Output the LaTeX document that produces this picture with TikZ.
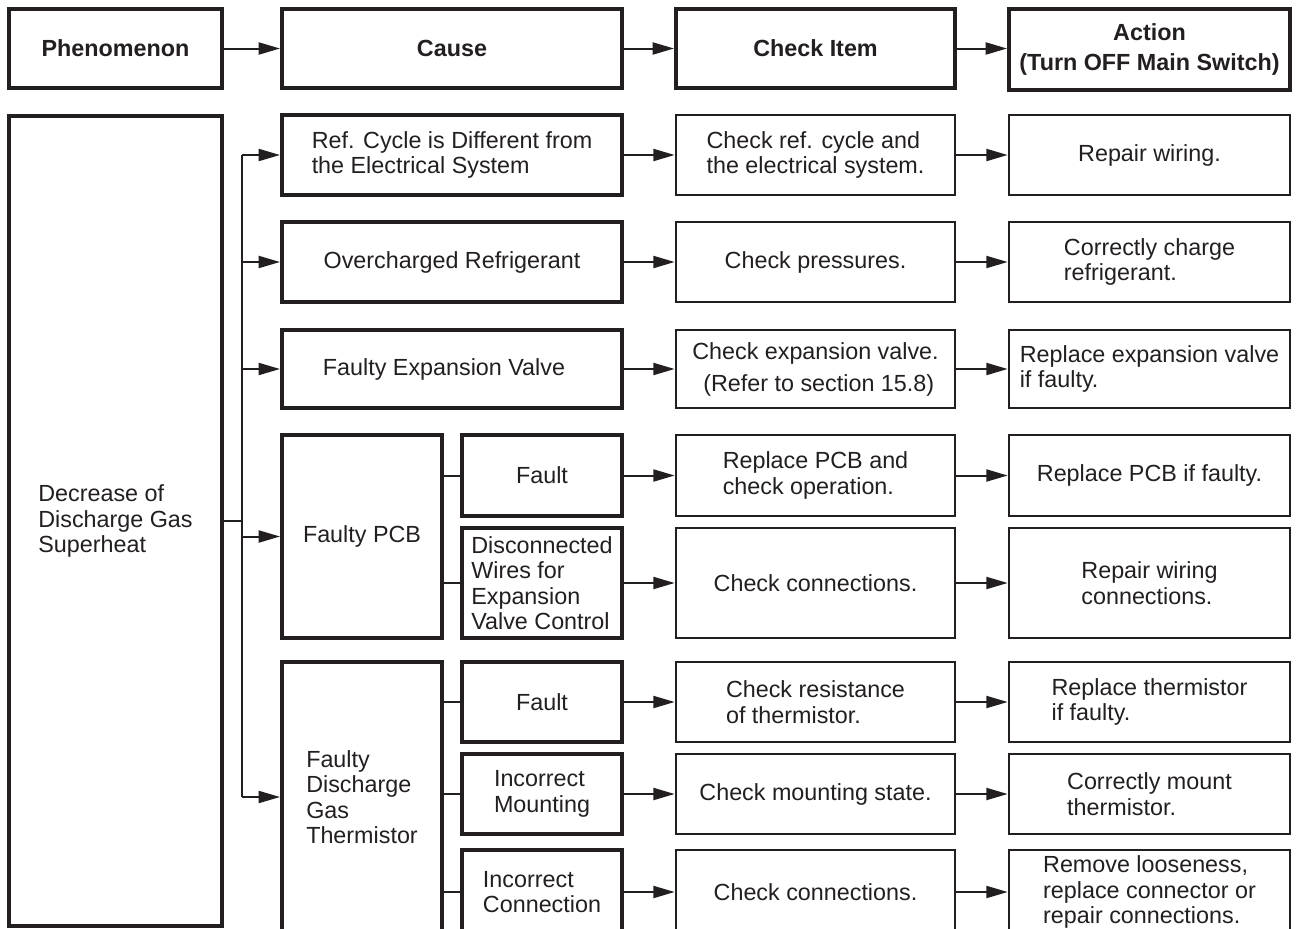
\documentclass[tikz,border=0pt]{standalone}
\usepackage{fontspec}
\setmainfont{Liberation Sans}
\usetikzlibrary{arrows.meta}
\definecolor{ink}{HTML}{231F20}
\newcommand{\bx}[7]{\node[#6,minimum width={(#4-#2)*0.75pt},minimum height={(#5-#3)*0.75pt}] (#1) at ({(#2+#4)/2},{(#3+#5)/2}) {#7};}
\begin{document}
\begin{tikzpicture}[x=0.75pt,y=-0.75pt,
  every node/.style={font=\fontsize{17.5}{19}\selectfont, text=ink, inner sep=0pt, align=left},
  hdr/.style={draw=ink, line width=3pt, font=\fontsize{17.5}{23}\selectfont\bfseries, align=center},
  cbox/.style={draw=ink, line width=3pt},
  kbox/.style={draw=ink, line width=2pt},
  arr/.style={draw=ink, line width=1.5pt, -{Triangle[length=16pt,width=9pt]}},
  ln/.style={draw=ink, line width=1.5pt}]
\clip (0,0) rectangle (1298,928);
\fill[white] (0,0) rectangle (1298,928);
% headers
\bx{h1}{9}{9}{222}{88}{hdr}{Phenomenon}
\bx{h2}{282}{9}{622}{88}{hdr}{Cause}
\bx{h3}{676}{9}{955}{88}{hdr}{Check Item}
\bx{h4}{1009}{9}{1290}{90}{hdr}{Action\\(Turn OFF Main Switch)}
\draw[arr] (h1) -- (h2);
\draw[arr] (h2) -- (h3);
\draw[arr] (h3.east |- h1.east) -- (h4.west |- h1.east);
% phenomenon
\bx{ph}{9}{116}{222}{926}{cbox}{Decrease of\\Discharge Gas\\Superheat}
% causes
\bx{c1}{282}{115}{622}{195}{cbox}{Ref. Cycle is Different from\\the Electrical System}
\bx{c2}{282}{222}{622}{302}{cbox}{Overcharged Refrigerant}
\bx{c3}{282}{330}{622}{408}{cbox}{Faulty Expansion Valve\hspace*{12pt}}
\bx{c4}{282}{435}{442}{638}{cbox}{Faulty PCB}
\bx{c4a}{462}{435}{622}{516}{cbox}{Fault}
\bx{c4b}{462}{528}{622}{638}{cbox}{Disconnected\\Wires for\\Expansion\\Valve Control}
\bx{c5}{282}{662}{442}{932}{cbox}{Faulty\\Discharge\\Gas\\Thermistor}
\bx{c5a}{462}{662}{622}{742}{cbox}{Fault}
\bx{c5b}{462}{754}{622}{834}{cbox}{Incorrect\\Mounting}
\bx{c5c}{462}{850}{622}{934}{cbox}{Incorrect\\Connection}
% check items
\bx{k1}{676}{115}{955}{195}{kbox}{Check ref. cycle and\\the electrical system.}
\bx{k2}{676}{222}{955}{302}{kbox}{Check pressures.}
\bx{k3}{676}{330}{955}{408}{kbox,align=center}{Check expansion valve.\\[5pt]\ (Refer to section 15.8)}
\bx{k4a}{676}{435}{955}{516}{kbox}{Replace PCB and\\check operation.}
\bx{k4b}{676}{528}{955}{638}{kbox}{Check connections.}
\bx{k5a}{676}{662}{955}{742}{kbox}{Check resistance\\of thermistor.}
\bx{k5b}{676}{754}{955}{834}{kbox}{Check mounting state.}
\bx{k5c}{676}{850}{955}{934}{kbox}{Check connections.}
% actions
\bx{a1}{1009}{115}{1290}{195}{kbox}{Repair wiring.}
\bx{a2}{1009}{222}{1290}{302}{kbox}{Correctly charge\\refrigerant.}
\bx{a3}{1009}{330}{1290}{408}{kbox}{Replace expansion valve\\if faulty.}
\bx{a4a}{1009}{435}{1290}{516}{kbox}{Replace PCB if faulty.}
\bx{a4b}{1009}{528}{1290}{638}{kbox}{Repair wiring\\connections.}
\bx{a5a}{1009}{662}{1290}{742}{kbox}{Replace thermistor\\if faulty.}
\bx{a5b}{1009}{754}{1290}{834}{kbox}{Correctly mount\\thermistor.}
\bx{a5c}{1009}{850}{1290}{934}{kbox}{Remove looseness,\\replace connector or\\repair connections.}
% trunk
\coordinate (tj) at (242,521);
\draw[ln] (ph.east) -- (tj);
\draw[ln] (tj |- c1.west) -- (tj |- c5.west);
\foreach \c in {c1,c2,c3,c4,c5} \draw[arr] (tj |- \c.west) -- (\c.west);
% sub branches
\foreach \c in {c4a,c4b} \draw[ln] (c4.east |- \c.west) -- (\c.west);
\foreach \c in {c5a,c5b,c5c} \draw[ln] (c5.east |- \c.west) -- (\c.west);
% cause -> check -> action
\foreach \r in {1,2,3,4a,4b,5a,5b,5c} {
  \draw[arr] (c\r.east) -- (k\r.west);
  \draw[arr] (k\r.east) -- (a\r.west);
}
\end{tikzpicture}
\end{document}
